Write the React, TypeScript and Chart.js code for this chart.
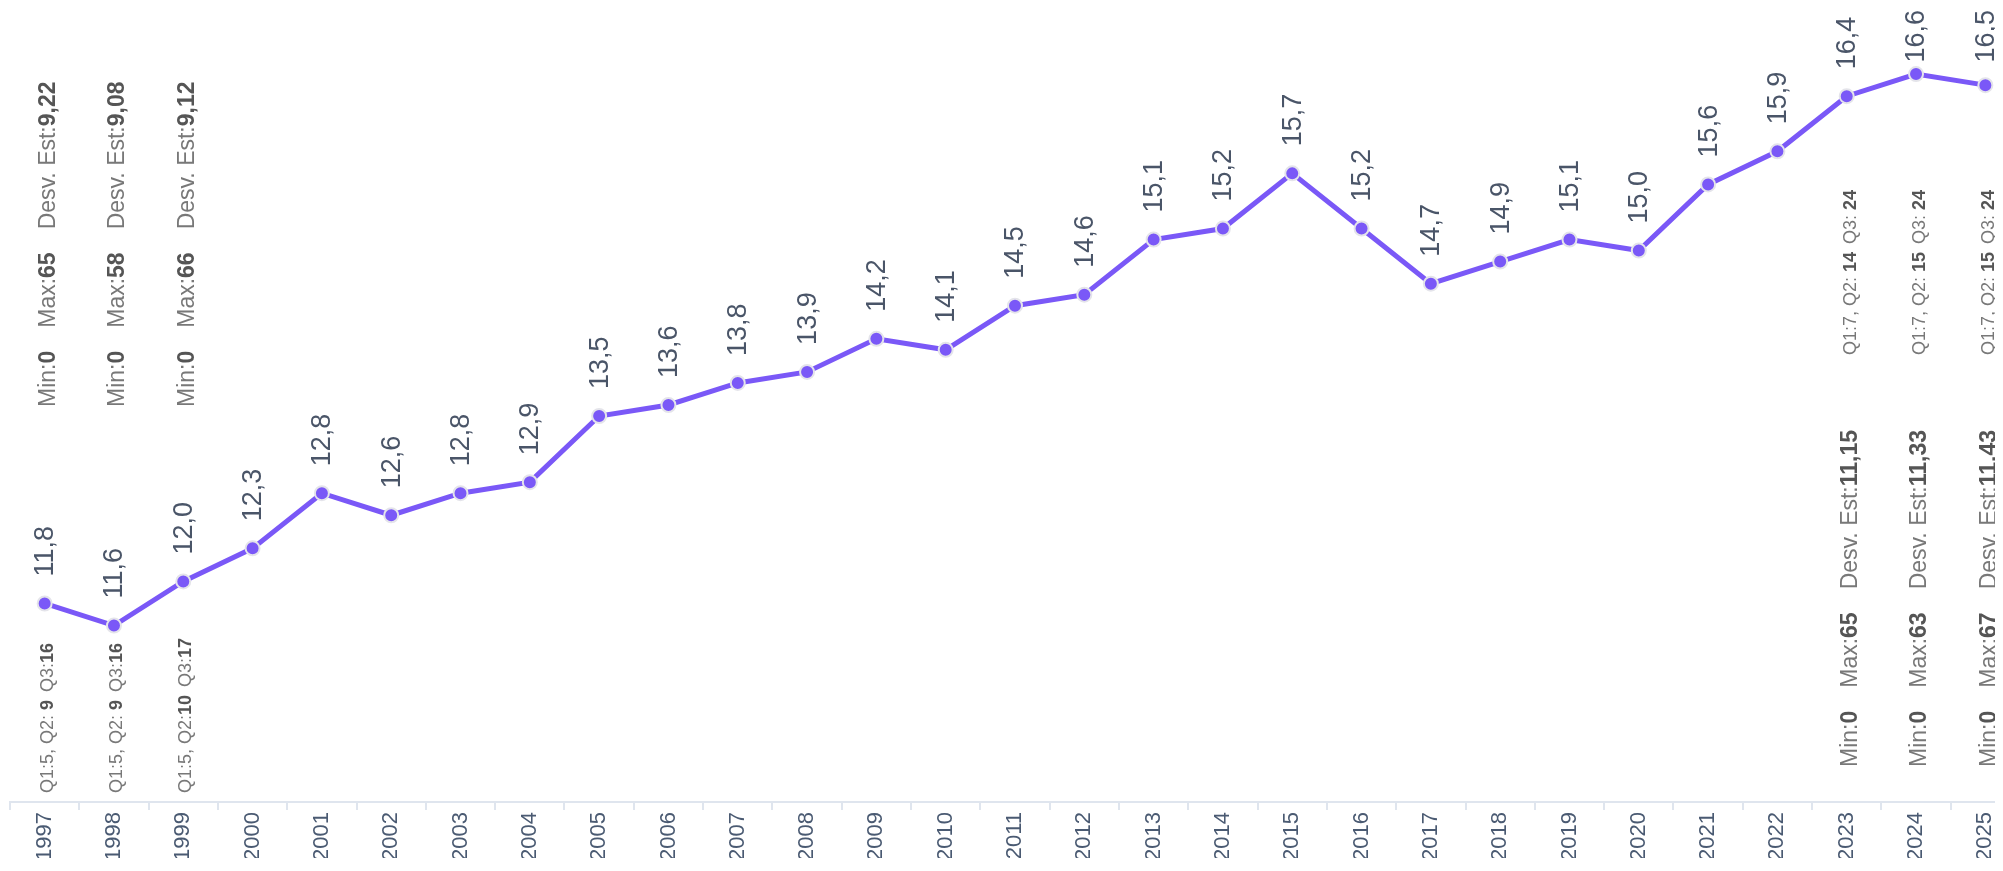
import React, { useEffect, useRef } from "react";
import { Chart, registerables } from "chart.js";

Chart.register(...registerables);

const years = ["1997","1998","1999","2000","2001","2002","2003","2004","2005","2006","2007","2008","2009","2010","2011","2012","2013","2014","2015","2016","2017","2018","2019","2020","2021","2022","2023","2024","2025"];
const values = [11.8,11.6,12.0,12.3,12.8,12.6,12.8,12.9,13.5,13.6,13.8,13.9,14.2,14.1,14.5,14.6,15.1,15.2,15.7,15.2,14.7,14.9,15.1,15.0,15.6,15.9,16.4,16.6,16.5];

// annotation stats for first three and last three years
const statYears = ["1997","1998","1999","2023","2024","2025"];
const statMin = ["0","0","0","0","0","0"];
const statMax = ["65","58","66","65","63","67"];
const statStd = ["9,22","9,08","9,12","11,15","11,33","11,43"];
const statQ1 = ["5","5","5","7","7","7"];
const statQ2 = [" 9"," 9","10"," 14"," 15"," 15"];
const statQ3 = ["16","16","17"," 24"," 24"," 24"];

const FONT = "'Liberation Sans', Arial, sans-serif";
const LINE = "#7a58f7";
const LABEL = "#4a5568";
const NORMAL = "#787878";
const BOLD = "#555555";

type Piece = { t: string; b?: boolean; gap?: number };

function drawPieces(ctx: CanvasRenderingContext2D, x: number, y: number, pieces: Piece[], size: number) {
  ctx.save();
  ctx.translate(x, y);
  ctx.rotate(-Math.PI / 2);
  ctx.textAlign = "left";
  ctx.textBaseline = "middle";
  let pos = 0;
  for (const p of pieces) {
    ctx.font = `${p.b ? "bold " : ""}${size}px ${FONT}`;
    ctx.fillStyle = p.b ? BOLD : NORMAL;
    ctx.fillText(p.t, pos, 0);
    pos += ctx.measureText(p.t).width + (p.gap || 0);
  }
  ctx.restore();
}

const annotPlugin = {
  id: "annot",
  afterDatasetsDraw(chart: any) {
    const ctx: CanvasRenderingContext2D = chart.ctx;
    const xs = chart.scales.x;
    const ys = chart.scales.y;
    const area = chart.chartArea;
    // value labels
    values.forEach((v, i) => {
      const x = xs.getPixelForValue(i);
      const y = ys.getPixelForValue(v);
      const txt = v.toFixed(1).replace(".", ",");
      ctx.save();
      ctx.font = `27px ${FONT}`;
      const w = ctx.measureText(txt).width;
      let start = y - 27;
      if (start - w < 2) start = 2 + w;
      ctx.translate(x + 1, start);
      ctx.rotate(-Math.PI / 2);
      ctx.fillStyle = LABEL;
      ctx.textAlign = "left";
      ctx.textBaseline = "middle";
      ctx.fillText(txt, 0, 0);
      ctx.restore();
    });
    statYears.forEach((yr, k) => {
      const i = years.indexOf(yr);
      const x = xs.getPixelForValue(i) + 4;
      const stats: Piece[] = [
        { t: "Min:" }, { t: statMin[k], b: true, gap: 23 },
        { t: "Max:" }, { t: statMax[k], b: true, gap: 23 },
        { t: "Desv. Est:" }, { t: statStd[k], b: true },
      ];
      const qd: Piece[] = [
        { t: "Q1:" }, { t: statQ1[k] + ",", gap: 5 },
        { t: "Q2:" }, { t: statQ2[k], b: true, gap: 8 },
        { t: "Q3:" }, { t: statQ3[k], b: true },
      ];
      if (k < 3) {
        drawPieces(ctx, x, area.top + 377, stats, 23);
        drawPieces(ctx, x - 1, area.bottom - 9, qd, 18);
      } else {
        drawPieces(ctx, x, area.bottom - 35, stats, 23);
        drawPieces(ctx, x, area.top + 325, qd, 18);
      }
    });
  },
};

export default function App() {
  const ref = useRef<HTMLCanvasElement>(null);
  useEffect(() => {
    if (!ref.current) return;
    const chart = new Chart(ref.current, {
      type: "line",
      data: {
        labels: years,
        datasets: [
          {
            data: values,
            borderColor: LINE,
            borderWidth: 5,
            backgroundColor: LINE,
            pointBackgroundColor: LINE,
            pointBorderColor: "#e4e4ea",
            pointBorderWidth: 2,
            pointRadius: 7,
            tension: 0,
          },
        ],
      },
      options: {
        responsive: false,
        animation: false,
        layout: { padding: { top: 22, left: 2, right: 2, bottom: 2 } },
        plugins: { legend: { display: false }, tooltip: { enabled: false } },
        scales: {
          x: {
            type: "category",
            offset: true,
            afterFit: (s: any) => {
              s.height = 64;
            },
            grid: { offset: true, drawOnChartArea: false, drawTicks: true, tickLength: 8, color: "#dfe5ee", lineWidth: 2 },
            border: { display: true, color: "#dfe5ee", width: 2 },
            ticks: {
              autoSkip: false,
              minRotation: 90,
              maxRotation: 90,
              color: "#4a5a72",
              font: { family: FONT, size: 22 },
              padding: 2,
            },
          },
          y: { display: false, min: 10, max: 17 },
        },
      },
      plugins: [annotPlugin],
    });
    return () => chart.destroy();
  }, []);
  return (
    <div style={{ width: "100%", height: 862, marginBottom: -12, overflow: "hidden" }}>
      <canvas ref={ref} width={2028} height={860} style={{ display: "block", width: 2028, height: 860, marginLeft: -7 }} />
    </div>
  );
}
